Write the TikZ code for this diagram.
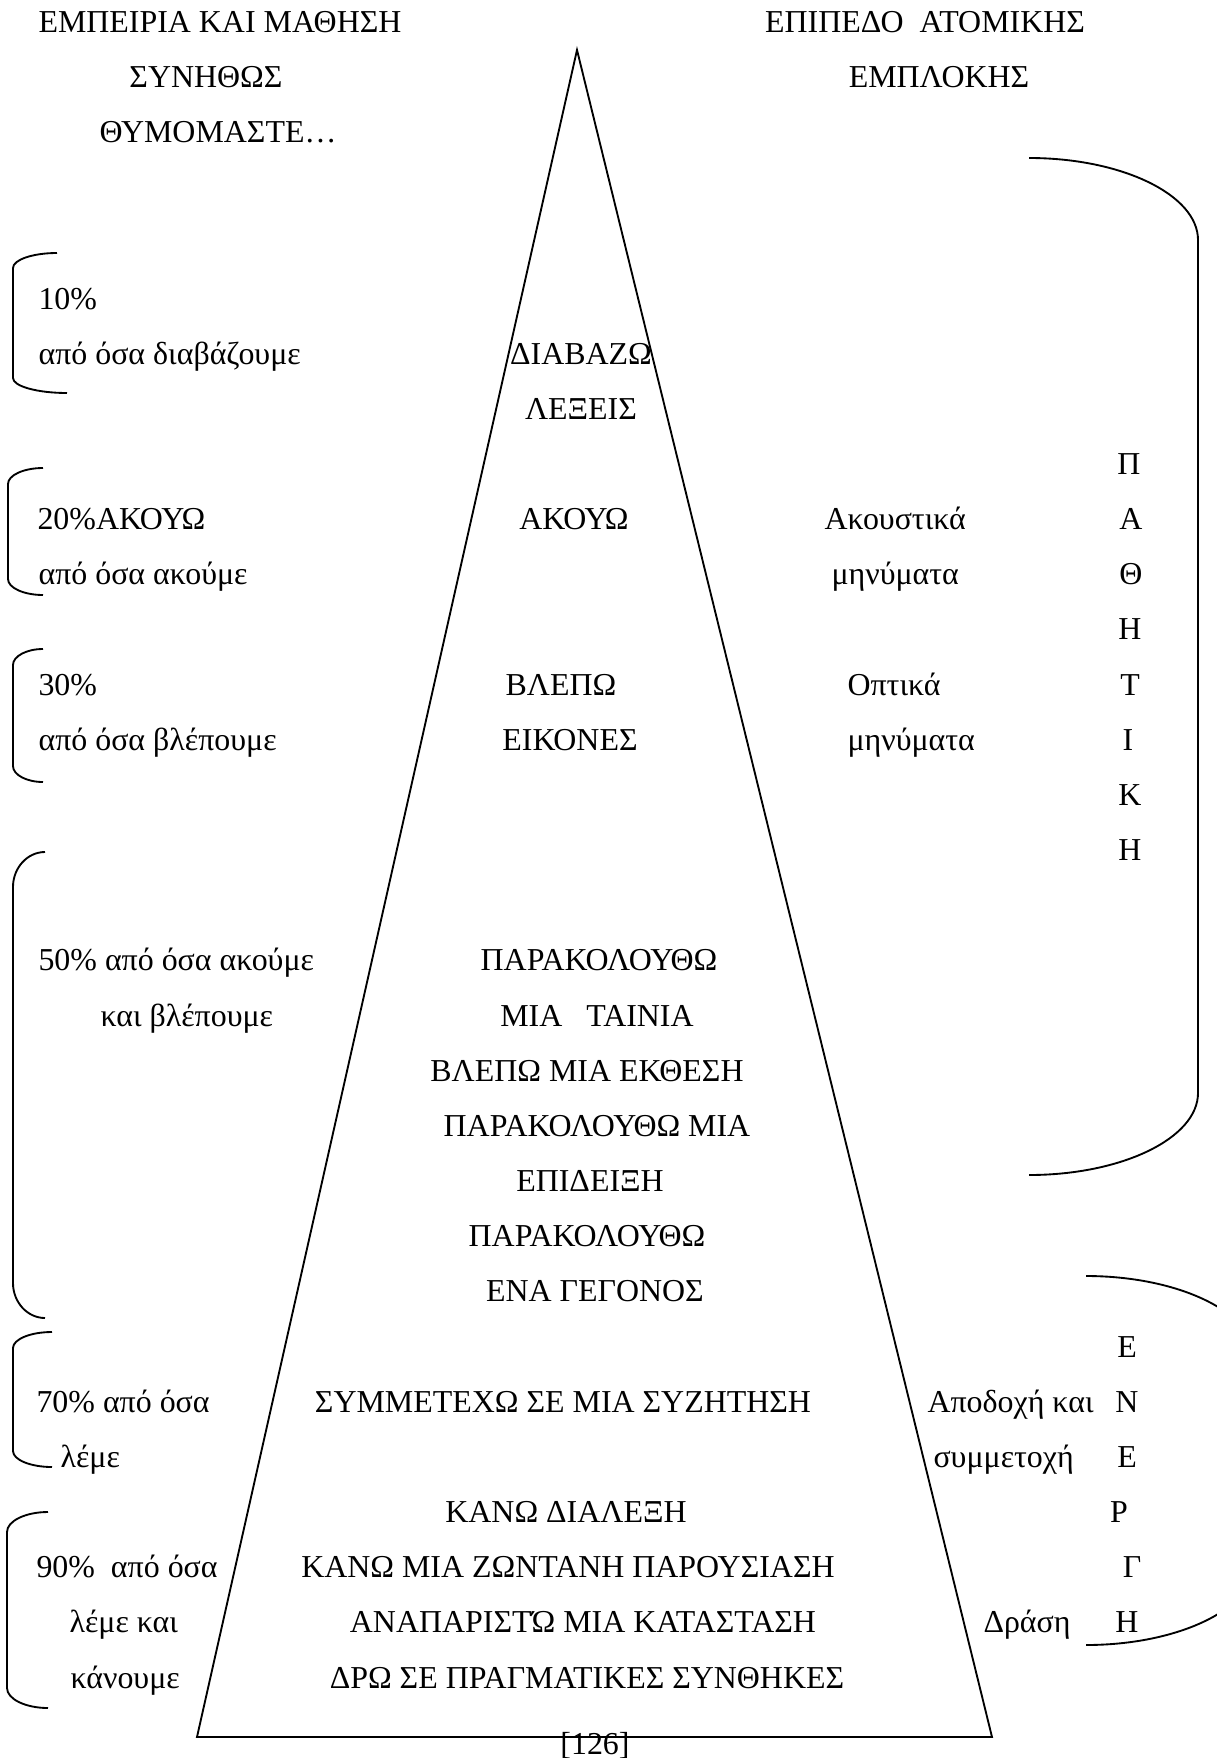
\documentclass[tikz,border=0pt]{standalone}
\usepackage{fontspec}
\setmainfont{Liberation Serif}
\newcommand{\rowy}[1]{309+55.16*#1}
\tikzset{
  txt/.style={font=\fontsize{12pt}{14pt}\selectfont,inner sep=0pt,anchor=base},
  ltxt/.style={txt,anchor=base west},
  brak/.style={line width=0.7pt},
}
\begin{document}
\begin{tikzpicture}[x=0.376pt,y=-0.376pt]
   \useasboundingbox (0,0) rectangle (1217,1758);
   %piramide
   \coordinate (apex) at (577,50);
   \coordinate (bl) at (197,1737);
   \coordinate (br) at (992,1737);
   \draw[brak] (apex) -- (bl) -- (br) -- cycle;
   %parentesi
   \foreach \xa/\xb/\xv/\ya/\yb/\r in {57/67/13/253/393/15,43/43/8/468/595/16,43/43/13/649/782/16,45/45/13/852/1318/35,52/52/13/1332/1467/16,48/48/7/1512/1708/20,1029/1029/1198/158/1175/82,1086/1086/1255/1276/1645/82}
      \draw[brak] (\xa,\ya) .. controls ({\xv+0.45*(\xa-\xv)},\ya) and (\xv,{\ya+0.45*\r}) .. (\xv,{\ya+\r}) -- (\xv,{\yb-\r}) .. controls (\xv,{\yb-0.45*\r}) and ({\xv+0.45*(\xb-\xv)},\yb) .. (\xb,\yb);
   %titoli
   \node[txt] (empeiria) at (220,33) {ΕΜΠΕΙΡΙΑ ΚΑΙ ΜΑΘΗΣΗ};
   \node[txt] (synithos) at (206,88) {ΣΥΝΗΘΩΣ};
   \node[txt] (thymomaste) at (218,143) {ΘΥΜΟΜΑΣΤΕ…};
   \node[txt] (epipedo) at (925,33) {ΕΠΙΠΕΔΟ\ \ ΑΤΟΜΙΚΗΣ};
   \node[txt] (emplokis) at (939,88) {ΕΜΠΛΟΚΗΣ};
   %percentuali
   \node[ltxt] (p10) at (38,{\rowy{0}}) {10\%};
   \node[ltxt] (p10t) at (38,{\rowy{1}}) {από όσα διαβάζουμε};
   \node[ltxt] (p20) at (37,{\rowy{4}}) {20\%ΑΚΟΥΩ};
   \node[ltxt] (p20t) at (38,{\rowy{5}}) {από όσα ακούμε};
   \node[ltxt] (p30) at (38,{\rowy{7}}) {30\%};
   \node[ltxt] (p30t) at (38,{\rowy{8}}) {από όσα βλέπουμε};
   \node[ltxt] (p50) at (38,{\rowy{12}}) {50\% από όσα ακούμε};
   \node[ltxt] (p50t) at (100,{\rowy{13}}) {και βλέπουμε};
   \node[ltxt] (p70) at (36,{\rowy{20}}) {70\% από όσα};
   \node[ltxt] (p70t) at (60,{\rowy{21}}) {λέμε};
   \node[ltxt] (p90) at (36,{\rowy{23}}) {90\%\ \ από όσα};
   \node[ltxt] (p90t) at (69,{\rowy{24}}) {λέμε και};
   \node[ltxt] (p90u) at (70,{\rowy{25}}) {κάνουμε};
   %attivita
   \node[txt] (diavazo) at (581,{\rowy{1}}) {ΔΙΑΒΑΖΩ};
   \node[txt] (lexeis) at (581,{\rowy{2}}) {ΛΕΞΕΙΣ};
   \node[txt] (akouo) at (574,{\rowy{4}}) {ΑΚΟΥΩ};
   \node[txt] (vlepo) at (561,{\rowy{7}}) {ΒΛΕΠΩ};
   \node[txt] (eikones) at (570,{\rowy{8}}) {ΕΙΚΟΝΕΣ};
   \node[txt] (parak1) at (599,{\rowy{12}}) {ΠΑΡΑΚΟΛΟΥΘΩ};
   \node[txt] (tainia) at (597,{\rowy{13}}) {ΜΙΑ\ \ \ ΤΑΙΝΙΑ};
   \node[txt] (ekthesi) at (587,{\rowy{14}}) {ΒΛΕΠΩ ΜΙΑ ΕΚΘΕΣΗ};
   \node[txt] (parak2) at (597,{\rowy{15}}) {ΠΑΡΑΚΟΛΟΥΘΩ ΜΙΑ};
   \node[txt] (epideixi) at (590,{\rowy{16}}) {ΕΠΙΔΕΙΞΗ};
   \node[txt] (parak3) at (587,{\rowy{17}}) {ΠΑΡΑΚΟΛΟΥΘΩ};
   \node[txt] (gegonos) at (595,{\rowy{18}}) {ΕΝΑ ΓΕΓΟΝΟΣ};
   \node[txt] (syzitisi) at (563,{\rowy{20}}) {ΣΥΜΜΕΤΕΧΩ ΣΕ ΜΙΑ ΣΥΖΗΤΗΣΗ};
   \node[txt] (dialexi) at (566,{\rowy{22}}) {ΚΑΝΩ ΔΙΑΛΕΞΗ};
   \node[txt] (parousiasi) at (568,{\rowy{23}}) {ΚΑΝΩ ΜΙΑ ΖΩΝΤΑΝΗ ΠΑΡΟΥΣΙΑΣΗ};
   \node[txt] (katastasi) at (583,{\rowy{24}}) {ΑΝΑΠΑΡΙΣΤΏ ΜΙΑ ΚΑΤΑΣΤΑΣΗ};
   \node[txt] (synthikes) at (587,{\rowy{25}}) {ΔΡΩ ΣΕ ΠΡΑΓΜΑΤΙΚΕΣ ΣΥΝΘΗΚΕΣ};
   %messaggi
   \node[ltxt] (akoustika) at (824,{\rowy{4}}) {Ακουστικά};
   \node[ltxt] (minymata1) at (831,{\rowy{5}}) {μηνύματα};
   \node[ltxt] (optika) at (847,{\rowy{7}}) {Οπτικά};
   \node[ltxt] (minymata2) at (847,{\rowy{8}}) {μηνύματα};
   \node[ltxt] (apodochi) at (927,{\rowy{20}}) {Αποδοχή και};
   \node[ltxt] (symmetochi) at (933,{\rowy{21}}) {συμμετοχή};
   \node[ltxt] (drasi) at (983,{\rowy{24}}) {Δράση};
   %lettere
   \foreach \l/\k/\x in {Π/3/1129,Α/4/1131,Θ/5/1131,Η/6/1130,Τ/7/1130,Ι/8/1128,Κ/9/1130,Η/10/1130}
      \node[txt] (pathitiki\k) at (\x,{\rowy{\k}}) {\l};
   \foreach \l/\k/\x in {Ε/19/1127,Ν/20/1127,Ε/21/1127,Ρ/22/1119,Γ/23/1132,Η/24/1127}
      \node[txt] (energi\k) at (\x,{\rowy{\k}}) {\l};
   \node[txt] (selida) at (595,1754) {[126]};
\end{tikzpicture}
\end{document}
